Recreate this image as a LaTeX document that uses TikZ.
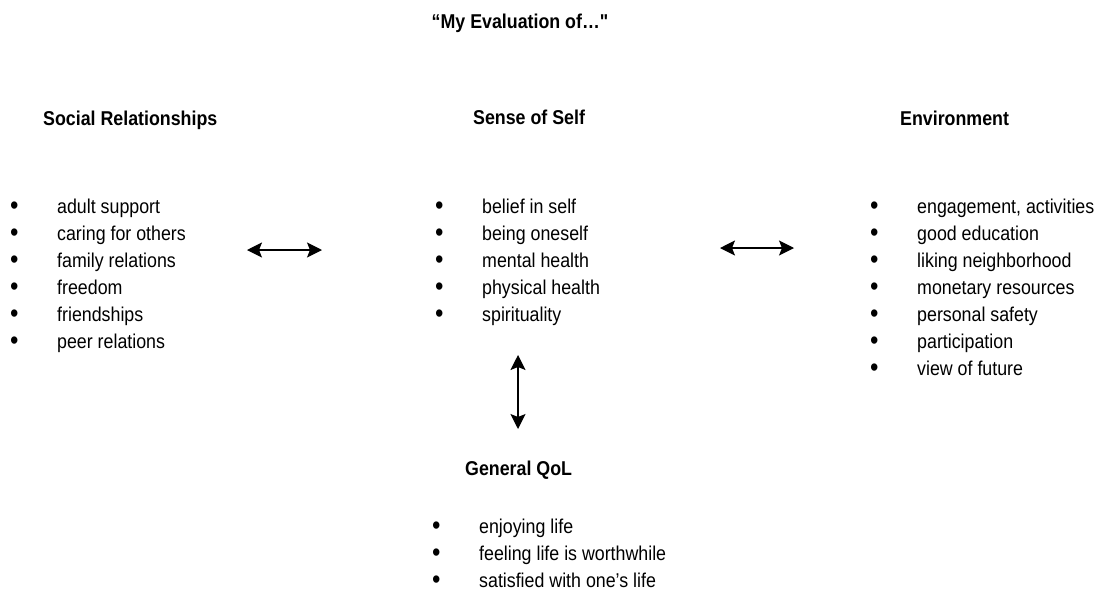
\documentclass[tikz,border=0pt]{standalone}
\usepackage{graphicx}
\usepackage{fontspec}
\setmainfont{Liberation Sans}[FakeStretch=0.89]
\newfontfamily\quotefont{Liberation Sans}[FakeStretch=0.89, Ligatures=TeXOff]
\usetikzlibrary{arrows.meta}

\newcommand{\bul}[1]{\makebox[47pt][l]{\raisebox{-1.8pt}[\height][0pt]{\scalebox{1.35}{\textbullet}}}#1}

\begin{document}
\begin{tikzpicture}[x=1pt, y=-1pt,
    head/.style={font=\bfseries\fontsize{20}{27}\selectfont, inner sep=0pt, anchor=base west},
    % base of a multi-line node is its last line
    items/.style={font=\fontsize{20}{27}\selectfont, inner sep=0pt, anchor=base west, align=left},
    link/.style={line width=1.2pt, {Stealth[length=15pt,width=15pt,inset=3pt]}-{Stealth[length=15pt,width=15pt,inset=3pt]}}]
    \useasboundingbox (0,0) rectangle (1098,592);

    \node[head, anchor=base] (title) at (520,28) {“My Evaluation of…{\quotefont\bfseries"}};

    \node[head] (social) at (43,125) {Social Relationships};
    \node[head] (self) at (473,124) {Sense of Self};
    \node[head] (env) at (900,125) {Environment};
    \node[head] (qol) at (465,475) {General QoL};

    \node[items] (sociallist) at (10,348) {\bul{adult support}\\ \bul{caring for others}\\
        \bul{family relations}\\ \bul{freedom}\\ \bul{friendships}\\ \bul{peer relations}};
    \node[items] (selflist) at (435,321) {\bul{belief in self}\\ \bul{being oneself}\\
        \bul{mental health}\\ \bul{physical health}\\ \bul{spirituality}};
    \node[items] (envlist) at (870,375) {\bul{engagement, activities}\\ \bul{good education}\\
        \bul{liking neighborhood}\\ \bul{monetary resources}\\ \bul{personal safety}\\
        \bul{participation}\\ \bul{view of future}};
    \node[items] (qollist) at (432,587) {\bul{enjoying life}\\ \bul{feeling life is worthwhile}\\
        \bul{satisfied with one’s life}};

    \coordinate (a1) at (247,250);
    \coordinate (a2) at (322,250);
    \coordinate (b1) at (720,248);
    \coordinate (b2) at (794,248);
    \coordinate (c1) at (518,355);
    \coordinate (c2) at (518,429);

    \draw[link] (a1) -- (a2);
    \draw[link] (b1) -- (b2);
    \draw[link] (c1) -- (c2);
\end{tikzpicture}
\end{document}
